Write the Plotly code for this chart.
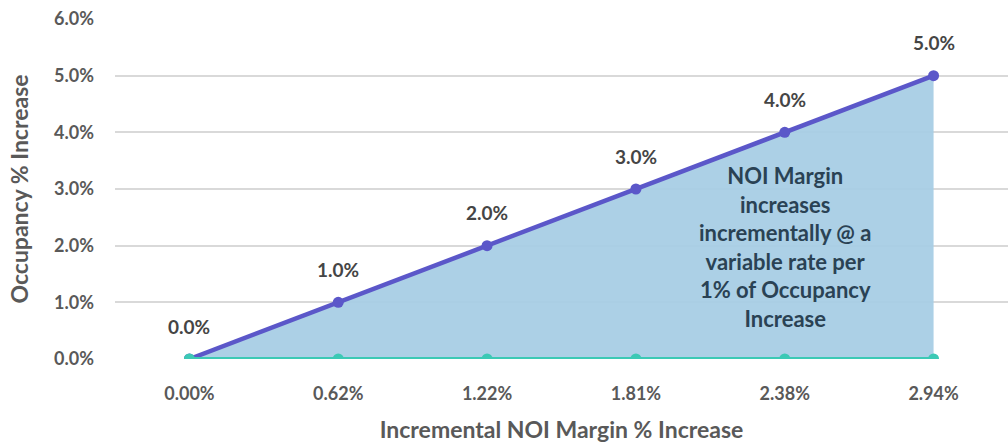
import plotly.graph_objects as go

# Incremental NOI margin increase (category labels on x)
noi_margin = ["0.00%", "0.62%", "1.22%", "1.81%", "2.38%", "2.94%"]
# Occupancy increase, in percent
occupancy = [0.0, 1.0, 2.0, 3.0, 4.0, 5.0]
# Baseline series
baseline = [0.0, 0.0, 0.0, 0.0, 0.0, 0.0]
y_ticks = [0, 1, 2, 3, 4, 5, 6]

FONT = "Lato, 'Open Sans', sans-serif"
GRAY = "#595959"
PURPLE = "#5B57C9"
TEAL = "#3CC9B5"
FILL = "rgba(168, 205, 229, 0.95)"

fig = go.Figure()

fig.add_trace(go.Scatter(
    x=noi_margin, y=occupancy, mode="lines+markers",
    line=dict(color=PURPLE, width=4.5),
    marker=dict(color=PURPLE, size=11),
    fill="tozeroy", fillcolor=FILL,
    hoverinfo="skip", showlegend=False,
))
fig.add_trace(go.Scatter(
    x=noi_margin, y=baseline, mode="lines+markers",
    line=dict(color=TEAL, width=4),
    marker=dict(color=TEAL, size=11),
    hoverinfo="skip", showlegend=False,
))

# value labels above each occupancy point
for cat, val in zip(noi_margin, occupancy):
    fig.add_annotation(
        x=cat, y=val, text=f"<b>{val:.1f}%</b>", showarrow=False,
        yshift=33, font=dict(family=FONT, size=19, color="#454545"),
    )

fig.add_annotation(
    x=noi_margin[4], y=1.98,
    text="<b>NOI Margin<br>increases<br>incrementally @ a<br>variable rate per<br>1% of Occupancy<br>Increase</b>",
    showarrow=False, align="center",
    font=dict(family=FONT, size=22, color="#2A4254"),
)

fig.update_layout(
    width=1008, height=443,
    margin=dict(l=115, r=0, t=19, b=84),
    paper_bgcolor="white", plot_bgcolor="white",
    font=dict(family=FONT, color=GRAY),
)
fig.update_xaxes(
    type="category", range=[-0.5, 5.5],
    showgrid=False, zeroline=False, showline=False, ticks="",
    tickfont=dict(family=FONT, size=18, color=GRAY),
    tickprefix="<b>", ticksuffix="</b>",
    ticklabelstandoff=22,
    title=dict(text="<b>Incremental NOI Margin % Increase</b>",
               font=dict(family=FONT, size=23, color=GRAY), standoff=18),
)
fig.update_yaxes(
    range=[0, 6], tickvals=y_ticks,
    ticktext=[f"<b>{v:.1f}%</b>" for v in y_ticks],
    showgrid=True, gridcolor="#D9D9D9", gridwidth=1.5,
    zeroline=False, showline=False, ticks="",
    tickfont=dict(family=FONT, size=18, color=GRAY),
    ticklabelstandoff=20,
    title=dict(text="<b>Occupancy % Increase</b>",
               font=dict(family=FONT, size=23, color=GRAY), standoff=19),
)

fig.write_html("out.html")
